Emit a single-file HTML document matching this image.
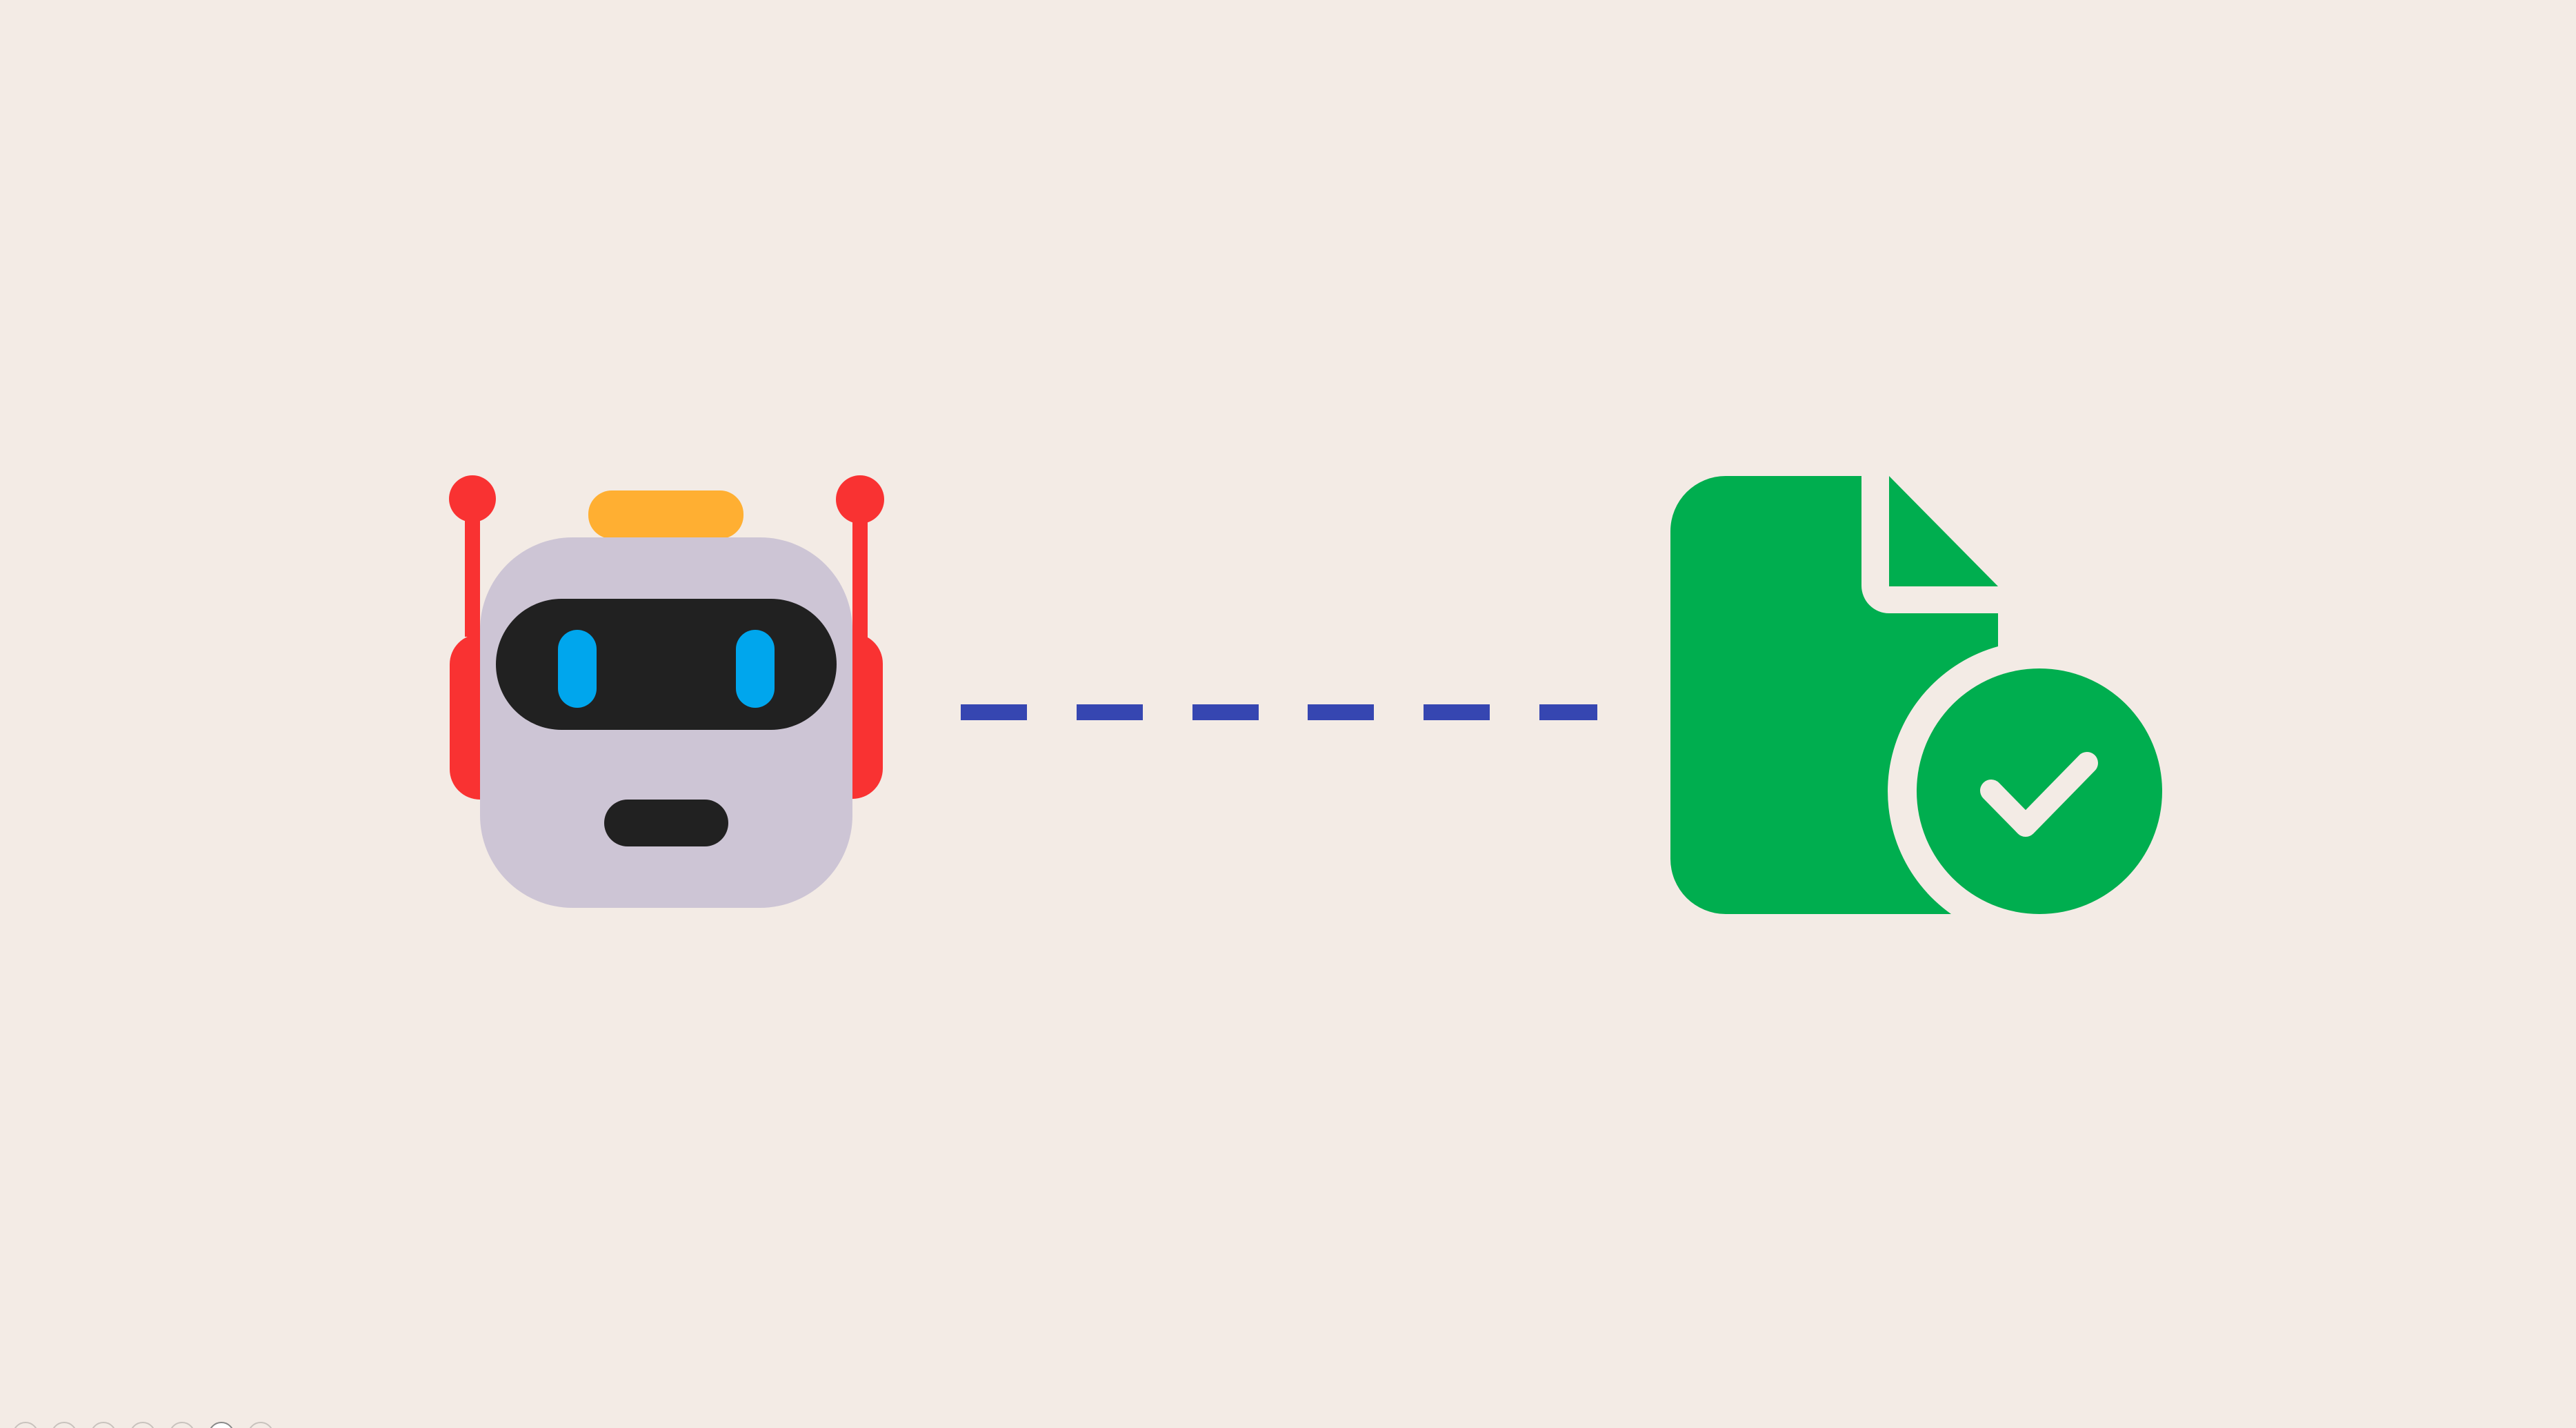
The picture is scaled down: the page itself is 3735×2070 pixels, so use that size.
<!DOCTYPE html>
<html><head><meta charset="utf-8"><style>
html,body{margin:0;padding:0;background:#f3ebe5;}
svg{display:block}
</style></head><body>
<svg width="3735" height="2070" viewBox="0 0 3735 2070" xmlns="http://www.w3.org/2000/svg">
<rect width="3735" height="2070" fill="#f3ebe5"/>
<!-- robot -->
<circle cx="685" cy="723" r="34" fill="#f93232"/>
<rect x="674" y="723" width="22" height="200" fill="#f93232"/>
<path d="M696 919 L696 1159 A44 44 0 0 1 652 1115 L652 963 A44 44 0 0 1 696 919 Z" fill="#f93232"/>
<circle cx="1247" cy="724" r="35" fill="#f93232"/>
<rect x="1236" y="724" width="22" height="200" fill="#f93232"/>
<path d="M1236 918 L1236 1158 A44 44 0 0 0 1280 1114 L1280 962 A44 44 0 0 0 1236 918 Z" fill="#f93232"/>
<rect x="853" y="711" width="225" height="70" rx="34" fill="#ffaf32"/>
<rect x="696" y="779" width="540" height="537" rx="134" fill="#cdc5d5"/>
<rect x="719" y="868" width="494" height="190" rx="95" fill="#212121"/>
<rect x="809" y="913" width="56" height="113" rx="28" fill="#00a6ed"/>
<rect x="1067" y="913" width="56" height="113" rx="28" fill="#00a6ed"/>
<rect x="876" y="1159" width="180" height="68" rx="34" fill="#212121"/>
<!-- dashes -->
<g fill="#3646b1">
<rect x="1393" y="1021" width="96" height="23"/>
<rect x="1561" y="1021" width="96" height="23"/>
<rect x="1729" y="1021" width="96" height="23"/>
<rect x="1896" y="1021" width="96" height="23"/>
<rect x="2064" y="1021" width="96" height="23"/>
<rect x="2232" y="1021" width="84" height="23"/>
</g>
<!-- document -->
<path d="M2502 690 L2699 690 L2699 849 A40 40 0 0 0 2739 889 L2897 889 L2897 937 A218 218 0 0 0 2829 1325 L2502 1325 A80 80 0 0 1 2422 1245 L2422 770 A80 80 0 0 1 2502 690 Z" fill="#00ae4f"/>
<path d="M2739 690 L2897 850 L2739 850 Z" fill="#00ae4f"/>
<circle cx="2957" cy="1147" r="178" fill="#00ae4f"/>
<polyline points="2887,1146 2937,1197 3026,1106" fill="none" stroke="#f3ebe5" stroke-width="32" stroke-linecap="round" stroke-linejoin="round"/>
<!-- bottom dots -->
<g fill="none" stroke="#c8c2bd" stroke-width="2">
<circle cx="37" cy="2080" r="18"/>
<circle cx="93" cy="2080" r="18"/>
<circle cx="150" cy="2080" r="18"/>
<circle cx="207" cy="2080" r="18"/>
<circle cx="264" cy="2080" r="18"/>
<circle cx="378" cy="2080" r="18"/>
</g>
<circle cx="321" cy="2080" r="18" fill="#fff" stroke="#888" stroke-width="2"/>
</svg>
</body></html>
